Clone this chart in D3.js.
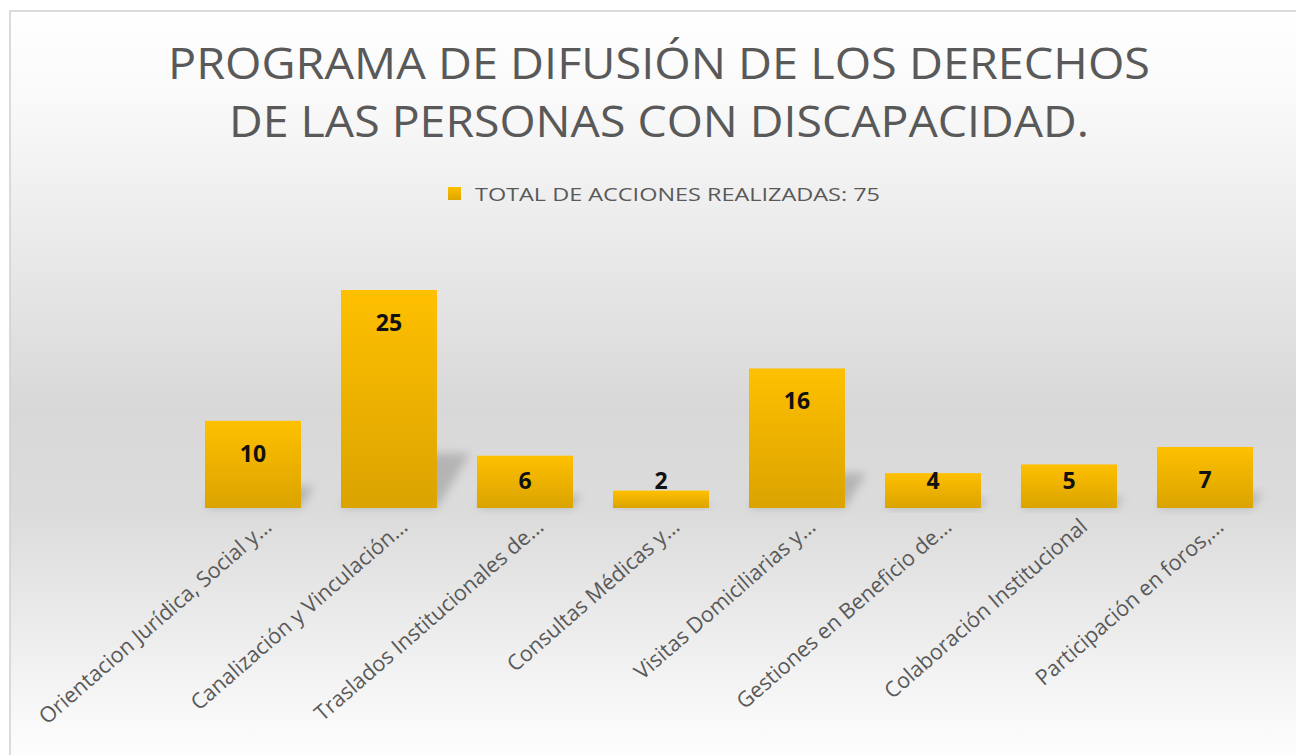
<!DOCTYPE html>
<html>
<head>
<meta charset="utf-8">
<script src="https://cdn.jsdelivr.net/npm/d3@7"></script>
<style>
  html, body { margin: 0; padding: 0; background: #fff; }
  svg { display: block; font-family: 'Open Sans', 'Noto Sans', sans-serif; }
</style>
</head>
<body>
<svg id="chart" width="1296" height="755"></svg>
<script>
const titleLines = ['PROGRAMA DE DIFUSIÓN DE LOS DERECHOS', 'DE LAS PERSONAS CON DISCAPACIDAD.']
const seriesName = 'TOTAL DE ACCIONES REALIZADAS: 75'
const categories = [
  'Orientacion Jurídica, Social y...',
  'Canalización y Vinculación...',
  'Traslados Institucionales de...',
  'Consultas Médicas y...',
  'Visitas Domiciliarias y...',
  'Gestiones en Beneficio de...',
  'Colaboración Institucional',
  'Participación en foros,...'
]
const values = [10, 25, 6, 2, 16, 4, 5, 7]

const W = 1296, H = 755
const svg = d3.select('#chart')
const defs = svg.append('defs')

// chart area background: white -> grey -> white
const bg = defs.append('linearGradient')
  .attr('id', 'bg').attr('x1', 0).attr('y1', 0).attr('x2', 0).attr('y2', 1)
bg.selectAll('stop')
  .data([[0, '#ffffff'], [0.12, '#f9f9f9'], [0.52, '#d8d8d8'], [0.66, '#dcdcdc'], [0.93, '#f9f9f9'], [1, '#ffffff']])
  .enter().append('stop')
  .attr('offset', d => d[0]).attr('stop-color', d => d[1])

// bar fill, bright on top, darker at the bottom
const barGrad = defs.append('linearGradient')
  .attr('id', 'barGrad').attr('x1', 0).attr('y1', 0).attr('x2', 0).attr('y2', 1)
barGrad.append('stop').attr('offset', 0).attr('stop-color', '#ffc000')
barGrad.append('stop').attr('offset', 1).attr('stop-color', '#daa300')

const legGrad = defs.append('linearGradient')
  .attr('id', 'legGrad').attr('x1', 0).attr('y1', 0).attr('x2', 0).attr('y2', 1)
legGrad.append('stop').attr('offset', 0).attr('stop-color', '#ffc000')
legGrad.append('stop').attr('offset', 1).attr('stop-color', '#dda600')

defs.append('filter').attr('id', 'blur')
  .attr('x', '-50%').attr('y', '-50%').attr('width', '200%').attr('height', '200%')
  .append('feGaussianBlur').attr('stdDeviation', 5)

svg.append('rect')
  .attr('x', 10).attr('y', 11).attr('width', W + 10).attr('height', H + 10)
  .attr('fill', 'url(#bg)')
  .attr('stroke', '#d0d0d0').attr('stroke-width', 1.5)

// Title
const title = svg.append('g').attr('fill', '#595959')
const titleWidths = [982, 860]
const titleBase = [79, 137]
titleLines.forEach((t, i) => {
  title.append('text')
    .attr('x', 659).attr('y', titleBase[i])
    .attr('text-anchor', 'middle')
    .style('font-size', '43px')
    .attr('textLength', titleWidths[i])
    .attr('lengthAdjust', 'spacingAndGlyphs')
    .text(t)
})

// Legend
svg.append('rect')
  .attr('x', 448).attr('y', 187).attr('width', 13).attr('height', 13)
  .attr('fill', 'url(#legGrad)')
svg.append('text')
  .attr('x', 475).attr('y', 201)
  .attr('fill', '#595959')
  .style('font-size', '19px')
  .attr('textLength', 405)
  .attr('lengthAdjust', 'spacingAndGlyphs')
  .text(seriesName)

// Scales
const x = d3.scaleBand()
  .domain(categories)
  .range([185, 1273])
  .paddingInner(0.294)
  .paddingOuter(0.147)

const y = d3.scaleLinear()
  .domain([0, 25])
  .range([508, 290])

const data = categories.map((c, i) => ({ cat: c, value: values[i] }))

// soft cast shadows to the lower right of each bar
svg.append('g').selectAll('path')
  .data(data)
  .enter().append('path')
  .attr('d', d => {
    const x0 = x(d.cat), x1 = x0 + x.bandwidth()
    const h = (y(0) - y(d.value)) * 0.25
    const dx = h * 0.6
    return `M${x0},${y(0)}L${x1},${y(0)}L${x1 + dx},${y(0) - h}L${x0 + dx},${y(0) - h}Z`
  })
  .attr('fill', '#7a7a7a')
  .attr('opacity', 0.4)
  .attr('filter', 'url(#blur)')

// Bars
svg.append('g').selectAll('rect')
  .data(data)
  .enter().append('rect')
  .attr('x', d => x(d.cat))
  .attr('y', d => y(d.value))
  .attr('width', x.bandwidth())
  .attr('height', d => y(0) - y(d.value))
  .attr('fill', 'url(#barGrad)')

// Value labels
svg.append('g').selectAll('text')
  .data(data)
  .enter().append('text')
  .attr('x', d => x(d.cat) + x.bandwidth() / 2)
  .attr('y', d => Math.min(y(d.value) + 41, y(0) - 19))
  .attr('text-anchor', 'middle')
  .attr('fill', '#111')
  .style('font-size', '23px')
  .style('font-weight', 'bold')
  .text(d => d.value)

// Category labels, rotated
svg.append('g').selectAll('text')
  .data(data)
  .enter().append('text')
  .attr('transform', d => `translate(${x(d.cat) + x.bandwidth() / 2 + 15},${y(0) + 15}) rotate(-41)`)
  .attr('text-anchor', 'end')
  .attr('dy', '0.35em')
  .attr('fill', '#595959')
  .style('font-size', '21.5px')
  .text(d => d.cat)
</script>
</body>
</html>
